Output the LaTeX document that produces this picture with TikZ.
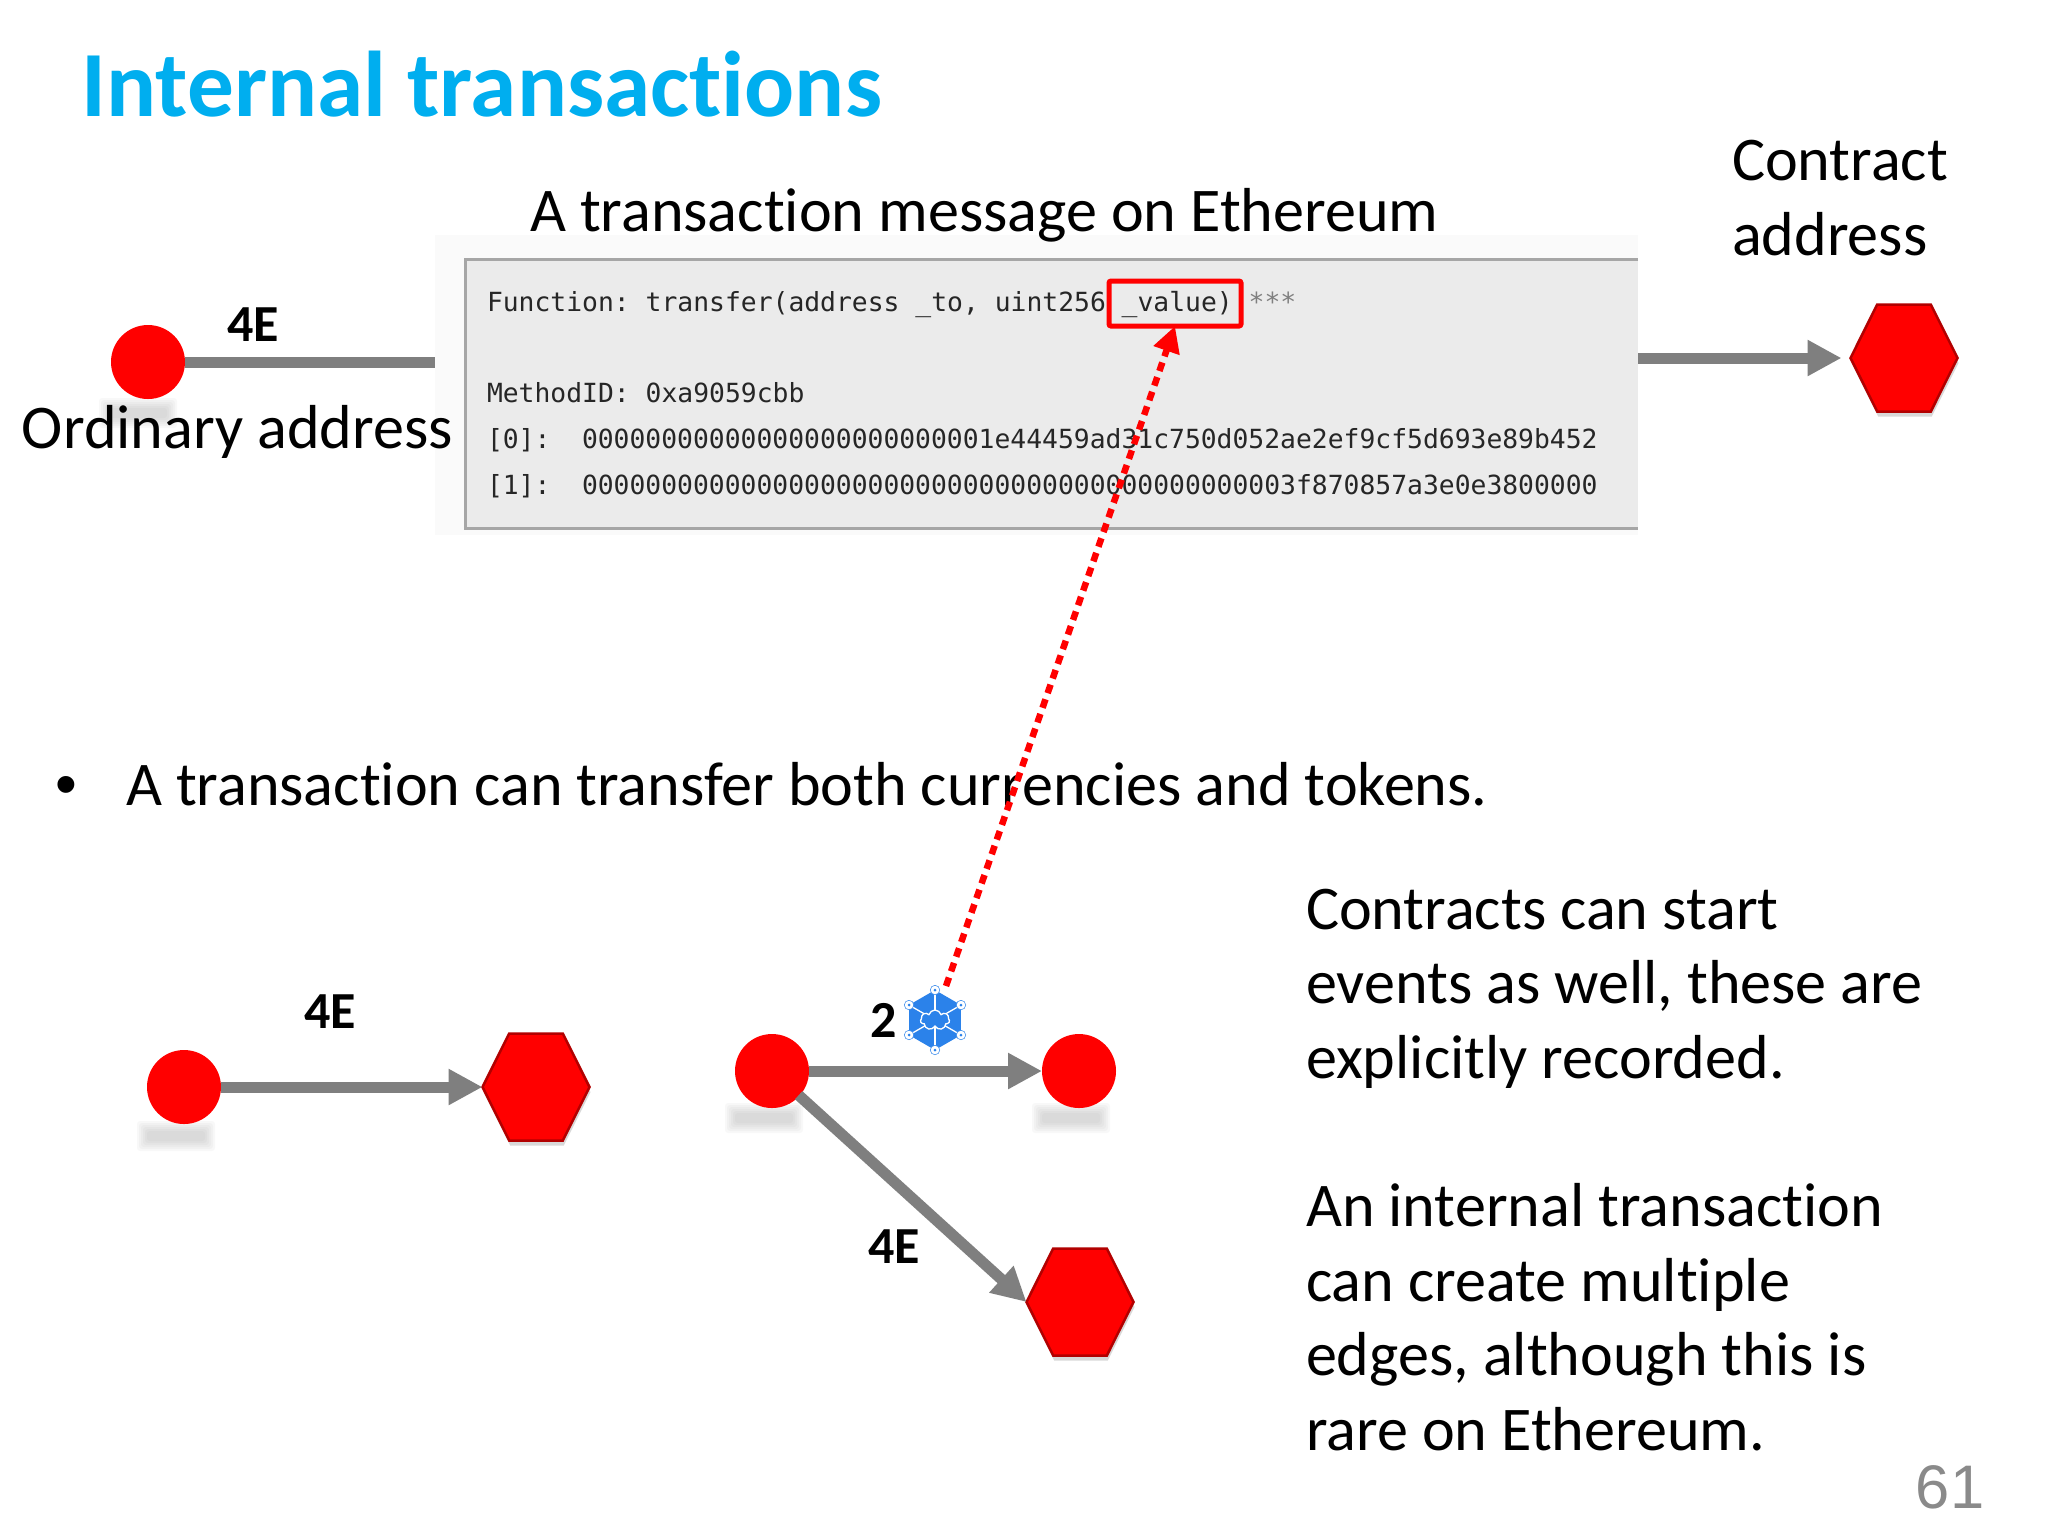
\documentclass[tikz,border=0pt]{standalone}
\usepackage{fontspec}
\setmainfont[Ligatures=CommonOff]{Carlito}
\setmonofont{DejaVu Sans Mono}
\newfontfamily\pagefont{Liberation Sans}
\usepackage{xcolor}
\usetikzlibrary{shapes,shapes.symbols,arrows.meta,shadows}
\definecolor{title-blue}{HTML}{00AEEF}
\definecolor{edge-gray}{HTML}{7F7F7F}
\definecolor{code-gray}{HTML}{EBEBEB}
\definecolor{token-blue}{HTML}{2B82EA}
\tikzstyle{txt} = [inner sep=0, outer sep=0, anchor=base west, align=left, font=\fontsize{17.68}{21.16}\selectfont]
\tikzstyle{amount} = [inner sep=0, outer sep=0, anchor=base west, font=\fontsize{14.8}{16}\selectfont\bfseries]
\tikzstyle{code} = [inner sep=0, outer sep=0, anchor=base west, text=black!85, font=\fontsize{7.5}{9}\selectfont\ttfamily]
\tikzstyle{ordinary} = [circle, fill=red, inner sep=0, outer sep=0, minimum size=7.4mm]
\tikzstyle{contract} = [signal, signal to=east and west, signal pointer angle=127, fill=red, draw=red!70!black, line width=0.25mm, inner sep=0, outer sep=0, minimum width=10.7mm, minimum height=10.7mm, drop shadow={opacity=0.3, shadow xshift=0.1mm, shadow yshift=-0.5mm}]
\tikzstyle{smear} = [fill=gray, opacity=0.05, rounded corners=0.3mm]
\tikzstyle{line} = [draw=edge-gray, line width=1.1mm, -{Triangle[length=3.4mm,width=3.4mm]}]
\tikzstyle{ref-line} = [draw=red, line width=0.65mm, dash pattern=on 0.9mm off 0.65mm, -{Triangle[length=2.6mm,width=2.6mm]}]
\tikzstyle{token-hex} = [regular polygon, regular polygon sides=6, shape border rotate=30, fill=token-blue, inner sep=0, outer sep=0, minimum size=6mm]
\tikzstyle{token-dot} = [circle, fill=white, draw=token-blue, line width=0.05mm, inner sep=0, minimum size=0.95mm]
\begin{document}
\begin{tikzpicture}[x=0.1mm,y=-0.1mm]
\useasboundingbox (0,0) rectangle (2048,1536);
\fill [white] (0,0) rectangle (2048,1536);
\node [inner sep=0, anchor=base west, text=title-blue, font=\fontsize{26.55}{32}\selectfont\bfseries] (title) at (81,116) {Internal transactions};

\node [rectangle, fill=black!2, inner sep=0, outer sep=0, minimum width=120.3mm, minimum height=30mm] (frame) at (1036.5,385) {};
\node [rectangle, fill=code-gray, inner sep=0, outer sep=0, minimum width=117.3mm, minimum height=26.9mm] (code-box) at (1051.5,393.5) {};
\draw [black!35, line width=0.3mm] (code-box.north east) -- (code-box.north west) -- (code-box.south west) -- (code-box.south east);
\node [code] (fn-line) at (487,311) {Function: transfer(address \_to, uint256 \_value) \textcolor{gray}{***}};
\node [code] (id-line) at (487,402) {MethodID: 0xa9059cbb};
\node [code] (arg0-name) at (487,448) {[0]:};
\node [code] (arg0-hex) at (582,448) {00000000000000000000000001e44459ad31c750d052ae2ef9cf5d693e89b452};
\node [code] (arg1-name) at (487,494) {[1]:};
\node [code] (arg1-hex) at (582,494) {000000000000000000000000000000000000000000003f870857a3e0e3800000};
\node [rectangle, draw=red, line width=0.5mm, inner sep=0, outer sep=0, rounded corners=0.2mm, minimum width=13.2mm, minimum height=4.5mm] (value-box) at (1175,303.5) {};

\node [txt] (msg-label) at (530,231) {A transaction message on Ethereum};
\node [txt] (contract-label) at (1732,255) {Contract\\address};
\foreach \sx/\sy in {138/413,176/1136,764/1118,1071/1118} {
  \begin{scope}[shift={(\sx,\sy)}]
  \foreach \w/\h in {39/15,37/13,35/11,33/9,31/7,29/5}
    \fill [smear] (-\w,-\h) rectangle (\w,\h);
  \end{scope}
}
\node [txt] (ordinary-label) at (22,448) {Ordinary address};
\node [ordinary] (top-sender) at (148,362) {};
\node [contract] (top-contract) at (1904,358) {};
\node [amount] (top-amount) at (227,341) {4E};
\path [line, -] (top-sender) -- (top-sender -| frame.west);
\path [line, shorten >=0.9mm] (code-box.east |- top-contract) -- (top-contract.west);

\node [txt, font=\fontsize{17.68}{21.16}\selectfont\pagefont] (bullet) at (56,805) {•};
\node [txt] (bullet-text) at (126,805) {A transaction can transfer both currencies and tokens.};

\node [ordinary] (a-sender) at (184,1087) {};
\node [contract] (a-contract) at (536,1087) {};
\node [amount] (a-amount) at (304,1028) {4E};
\path [line] (a-sender) -- (a-contract.west);

\node [ordinary] (b-sender) at (772,1071) {};
\node [ordinary] (b-receiver) at (1079,1071) {};
\node [contract] (b-contract) at (1080,1302) {};
\node [amount] (b-amount) at (870,1037) {2};
\node [amount] (c-amount) at (868,1263) {4E};
\path [line] (b-sender) -- (b-receiver);
\path [line, shorten <=3.6mm] (b-sender.center) -- (b-contract.west);

\node [token-hex] (token) at (935,1020) {};
\foreach \c in {1,...,6} {
  \draw [white, line width=0.13mm] (token.center) -- (token.corner \c);
  \node [token-dot] at (token.corner \c) {};
  \fill [token-blue] (token.corner \c) circle (1.5);
}
\node [cloud, cloud puffs=7, aspect=1.5, fill=token-blue, draw=white, line width=0.13mm, inner sep=0, minimum width=2.9mm, minimum height=2mm] (token-cloud) at (935,1020) {};

\coordinate (token-out) at (946,986);
\path [ref-line] (token-out) -- (value-box.south);

\node [txt] (events-text) at (1306,1078) {Contracts can start\\events as well, these are\\explicitly recorded.};
\node [txt] (edges-text) at (1306,1450) {An internal transaction\\can create multiple\\edges, although this is\\rare on Ethereum.};
\node [inner sep=0, anchor=base east, text=black!46, font=\fontsize{17.5}{22}\selectfont\pagefont] (page-no) at (1985,1508) {61};
\end{tikzpicture}
\end{document}
